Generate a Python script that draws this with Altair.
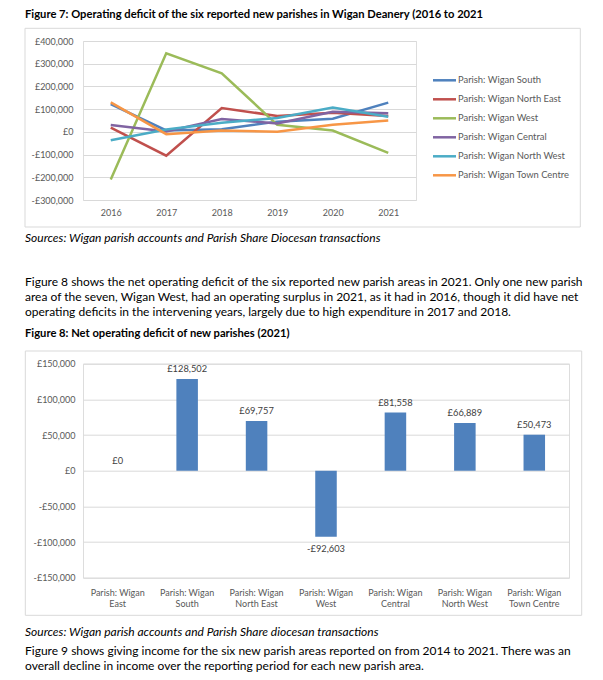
import altair as alt
import pandas as pd

FONT = "Lato"

# ---------------- data ----------------
years = ["2016", "2017", "2018", "2019", "2020", "2021"]
series_names = [
    "Parish: Wigan South",
    "Parish: Wigan North East",
    "Parish: Wigan West",
    "Parish: Wigan Central",
    "Parish: Wigan North West",
    "Parish: Wigan Town Centre",
]
south = [122000, 6000, 12000, 45000, 58000, 128502]
north_east = [19000, -105000, 105000, 70000, 84000, 69757]
west = [-210000, 346000, 258000, 31000, 6000, -92603]
central = [30000, 2000, 57000, 37000, 88000, 81558]
north_west = [-37000, 10000, 40000, 61000, 107000, 66889]
town_centre = [130000, -10000, 6000, 1000, 31000, 50473]
line_colors = ["#4F81BD", "#C0504D", "#9BBB59", "#8064A2", "#4BACC6", "#F79646"]
y1_ticks = [-300000, -200000, -100000, 0, 100000, 200000, 300000, 400000]

bar_cats = [
    "Parish: Wigan East",
    "Parish: Wigan South",
    "Parish: Wigan North East",
    "Parish: Wigan West",
    "Parish: Wigan Central",
    "Parish: Wigan North West",
    "Parish: Wigan Town Centre",
]
bar_vals = [0, 128502, 69757, -92603, 81558, 66889, 50473]
y2_ticks = [-150000, -100000, -50000, 0, 50000, 100000, 150000]

title7 = "Figure 7: Operating deficit of the six reported new parishes in Wigan Deanery (2016 to 2021"
sources7 = "Sources: Wigan parish accounts and Parish Share Diocesan transactions"
para8 = [
    "Figure 8 shows the net operating deficit of the six reported new parish areas in 2021. Only one new parish",
    "area of the seven, Wigan West, had an operating surplus in 2021, as it had in 2016, though it did have net",
    "operating deficits in the intervening years, largely due to high expenditure in 2017 and 2018.",
]
title8 = "Figure 8: Net operating deficit of new parishes (2021)"
sources8 = "Sources: Wigan parish accounts and Parish Share diocesan transactions"
para9 = [
    "Figure 9 shows giving income for the six new parish areas reported on from 2014 to 2021. There was an",
    "overall decline in income over the reporting period for each new parish area.",
]

all_series = [south, north_east, west, central, north_west, town_centre]
rows = []
for name, vals in zip(series_names, all_series):
    for yr, v in zip(years, vals):
        rows.append({"series": name, "year": yr, "value": v})
df1 = pd.DataFrame(rows)
legend_df = pd.DataFrame({"series": series_names, "idx": list(range(len(series_names)))})
df2 = pd.DataFrame({"cat": bar_cats, "value": bar_vals})
one = alt.Data(values=[{"k": 1}])

money = "datum.value < 0 ? '-£' + format(-datum.value, ',') : '£' + format(datum.value, ',')"
GRID = "#D9D9D9"
LAB = "#595959"
BODY = 12
HEAD = 11.2

def txt(s, x, y, size=BODY, weight="normal", style="normal", color="#000000", line_height=None):
    kw = dict(align="left", baseline="middle", font=FONT, fontSize=size,
              fontWeight=weight, fontStyle=style, color=color)
    if line_height is not None:
        kw["lineHeight"] = line_height
    return alt.Chart(one).mark_text(**kw).encode(
        x=alt.value(x), y=alt.value(y), text=alt.value(s))

def frame(x1, x2, y1, y2):
    return alt.Chart(one).mark_rect(filled=False, stroke=GRID, strokeWidth=1).encode(
        x=alt.value(x1), x2=alt.value(x2), y=alt.value(y1), y2=alt.value(y2))

# ---------------- chart 1 ----------------
W1, H1 = 333, 159
xenc = alt.X("year:O", scale=alt.Scale(type="point", padding=0.5, domain=years),
             axis=alt.Axis(title=None, labelAngle=0, ticks=False, domain=False, grid=False,
                           labelFont=FONT, labelFontSize=9, labelColor=LAB, labelPadding=8))
yenc = alt.Y("value:Q", scale=alt.Scale(domain=[-300000, 400000], nice=False, zero=False),
             axis=alt.Axis(title=None, values=y1_ticks, labelExpr=money, ticks=False, domain=False,
                           gridColor=GRID, gridWidth=1, labelFont=FONT, labelFontSize=9,
                           labelColor=LAB, labelPadding=10))
lines = []
for name, col in zip(series_names, line_colors):
    lines.append(
        alt.Chart(df1).transform_filter(alt.datum.series == name)
        .mark_line(color=col, strokeWidth=2.5)
        .encode(x=xenc, y=yenc)
    )
lines_layer = alt.layer(*lines)

leg_y = alt.Y("idx:O", scale=alt.Scale(type="point", padding=0, range=[39.3, 134.3]), axis=None)
leg_color = alt.Color("series:N", scale=alt.Scale(domain=series_names, range=line_colors), legend=None)
legend_rules = alt.Chart(legend_df).mark_rule(strokeWidth=2.5).encode(
    x=alt.value(350), x2=alt.value(373), y=leg_y, color=leg_color)
legend_text = alt.Chart(legend_df).mark_text(align="left", baseline="middle", font=FONT,
                                             fontSize=9.4, color=LAB).encode(
    x=alt.value(375), y=leg_y, text="series:N")
legend_layer = alt.layer(legend_rules, legend_text)

anchor = alt.Chart(one).mark_rect(color="white").encode(
    x=alt.value(-74), x2=alt.value(-73), y=alt.value(-32), y2=alt.value(-31))

chart1 = alt.layer(
    anchor,
    frame(-58, 497.3, -12.7, 186),
    lines_layer,
    legend_layer,
    txt(title7, -58, -26, size=HEAD, weight="bold"),
    txt(sources7, -58, 196.7, style="italic"),
    txt(para8, -58, 240.7, line_height=15.2),
).resolve_scale(y="independent", color="independent").properties(width=W1, height=H1)

# ---------------- chart 2 ----------------
W2, H2 = 486, 214
x2enc = alt.X("cat:N", sort=bar_cats, scale=alt.Scale(paddingInner=0.69, paddingOuter=0.345),
              axis=alt.Axis(title=None, labelAngle=0, ticks=False, domain=False, grid=False,
                            labelOverlap=False, labelFont=FONT, labelFontSize=9, labelColor=LAB,
                            labelPadding=11, labelLineHeight=10.5,
                            labelExpr="['Parish: Wigan', slice(datum.label, 14)]"))
y2enc = alt.Y("value:Q", scale=alt.Scale(domain=[-150000, 150000], nice=False),
              axis=alt.Axis(title=None, values=y2_ticks, labelExpr=money, ticks=False, domain=False,
                            gridColor=GRID, gridWidth=1, labelFont=FONT, labelFontSize=9,
                            labelColor=LAB, labelPadding=8))
base2 = alt.Chart(df2).encode(x=x2enc, y=y2enc)
bars = base2.mark_bar(color="#4F81BD")
pos_labels = base2.transform_filter(alt.datum.value >= 0).transform_calculate(
    lab=money).mark_text(baseline="bottom", dy=-5, font=FONT, fontSize=9.3, color="#404040").encode(
    text="lab:N")
neg_labels = base2.transform_filter(alt.datum.value < 0).transform_calculate(
    lab=money).mark_text(baseline="top", dy=8, font=FONT, fontSize=9.3, color="#404040").encode(
    text="lab:N")

chart2 = alt.layer(
    frame(-57.7, 498.7, -12.7, 251.6),
    bars,
    pos_labels,
    neg_labels,
    txt(title8, -58, -30, size=HEAD, weight="bold"),
    txt(sources8, -58, 268, style="italic"),
    txt(para9, -58, 287.5, line_height=15.2),
).properties(width=W2, height=H2)

chart = alt.vconcat(chart1, chart2, spacing=163.7, bounds="flush").properties(
    padding=0
).configure_view(stroke=None).configure(font=FONT)

chart.save("out.html", embed_options={"renderer": "svg", "actions": False})
